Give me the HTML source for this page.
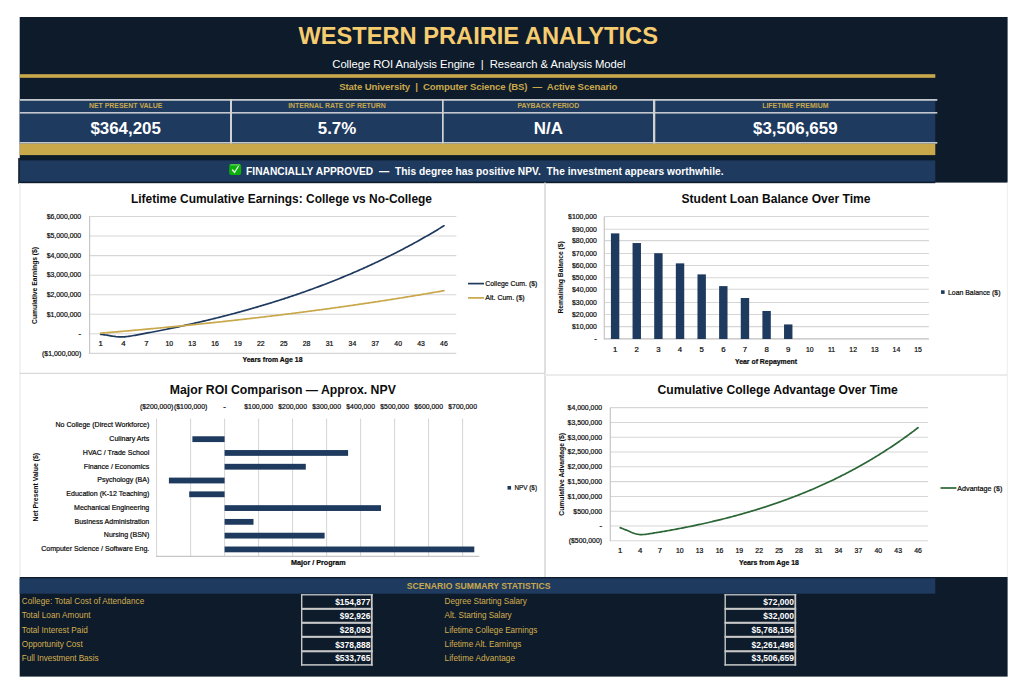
<!DOCTYPE html>
<html lang="en">
<head>
<meta charset="utf-8">
<title>Western Prairie Analytics — College ROI Analysis Engine</title>
<style>
html,body{margin:0;padding:0;background:#fff;}
body{width:1023px;height:698px;overflow:hidden;position:relative;}
svg{position:absolute;left:0;top:0;display:block;font-family:"Liberation Sans", sans-serif;}
</style>
</head>
<body>
<svg width="1023" height="698" viewBox="0 0 1023 698">
<rect x="19.70" y="17.00" width="987.90" height="165.60" fill="#0D1B2A"/>
<rect x="19.70" y="74.20" width="915.60" height="3.60" fill="#C9A84C"/>
<text x="478.20" y="44.00" font-size="23.7" fill="#F5CC70" font-weight="bold" text-anchor="middle" textLength="359.50" lengthAdjust="spacing">WESTERN PRAIRIE ANALYTICS</text>
<text x="478.90" y="68.40" font-size="11.3" fill="#FFFFFF" text-anchor="middle" textLength="293.20" lengthAdjust="spacing" xml:space="preserve" style="white-space:pre">College ROI Analysis Engine  |  Research &amp; Analysis Model</text>
<text x="478.30" y="90.40" font-size="9.6" fill="#C9A84C" font-weight="bold" text-anchor="middle" textLength="278.30" lengthAdjust="spacing" xml:space="preserve" style="white-space:pre">State University  |  Computer Science (BS)  —  Active Scenario</text>
<rect x="19.70" y="99.00" width="915.60" height="44.70" fill="#1E3A5F"/>
<rect x="19.70" y="99.00" width="917.60" height="1.80" fill="#C3C7CD"/>
<rect x="19.70" y="112.00" width="917.60" height="1.60" fill="#C3C7CD"/>
<rect x="19.70" y="142.00" width="917.60" height="1.70" fill="#C3C7CD"/>
<rect x="230.00" y="99.00" width="2.00" height="44.70" fill="#D2D2D2"/>
<rect x="442.00" y="99.00" width="1.70" height="44.70" fill="#D2D2D2"/>
<rect x="653.00" y="99.00" width="2.30" height="44.70" fill="#D2D2D2"/>
<text x="125.65" y="108.20" font-size="6.95" fill="#C9A84C" font-weight="bold" text-anchor="middle">NET PRESENT VALUE</text>
<text x="125.65" y="134.00" font-size="16.9" fill="#FFFFFF" font-weight="bold" text-anchor="middle">$364,205</text>
<text x="337.00" y="108.20" font-size="6.95" fill="#C9A84C" font-weight="bold" text-anchor="middle">INTERNAL RATE OF RETURN</text>
<text x="337.00" y="134.00" font-size="16.9" fill="#FFFFFF" font-weight="bold" text-anchor="middle">5.7%</text>
<text x="548.35" y="108.20" font-size="6.95" fill="#C9A84C" font-weight="bold" text-anchor="middle">PAYBACK PERIOD</text>
<text x="548.35" y="134.00" font-size="16.9" fill="#FFFFFF" font-weight="bold" text-anchor="middle">N/A</text>
<text x="795.30" y="108.20" font-size="6.95" fill="#C9A84C" font-weight="bold" text-anchor="middle">LIFETIME PREMIUM</text>
<text x="795.30" y="134.00" font-size="16.9" fill="#FFFFFF" font-weight="bold" text-anchor="middle">$3,506,659</text>
<rect x="19.70" y="143.70" width="915.60" height="11.40" fill="#C9A84C"/>
<rect x="19.70" y="160.40" width="915.60" height="21.40" fill="#1E3A5F"/>
<rect x="19.70" y="181.80" width="915.60" height="1.40" fill="#0D1B2A"/>
<rect x="18.20" y="158.00" width="1.70" height="25.70" fill="#0D1B2A"/>
<rect x="229.2" y="164" width="11.9" height="10.9" rx="2" fill="#0BB10B"/>
<rect x="230.2" y="164.3" width="9.9" height="1.1" rx="0.5" fill="#5FD25F"/>
<path d="M232.2 169.5 L234.5 172.4 L238.6 166" fill="none" stroke="#EDF6ED" stroke-width="1.25"/>
<text x="246.00" y="174.80" font-size="10.2" fill="#FFFFFF" font-weight="bold" textLength="477.60" lengthAdjust="spacing" xml:space="preserve" style="white-space:pre">FINANCIALLY APPROVED  —  This degree has positive NPV.  The investment appears worthwhile.</text>
<line x1="19.90" y1="183.00" x2="19.90" y2="577.00" stroke="#EEF0F2" stroke-width="1.6"/>
<line x1="1007.30" y1="182.60" x2="1007.30" y2="577.00" stroke="#EDEDED" stroke-width="1.0"/>
<line x1="545.00" y1="182.40" x2="545.00" y2="577.00" stroke="#D9D9D9" stroke-width="1.6"/>
<line x1="19.60" y1="373.40" x2="545.00" y2="373.40" stroke="#D9D9D9" stroke-width="1.2"/>
<line x1="545.00" y1="375.00" x2="1007.80" y2="375.00" stroke="#ECECEC" stroke-width="1.8"/>
<text x="281.50" y="203.20" font-size="12.9" fill="#0c0c0c" font-weight="bold" text-anchor="middle" textLength="301.00" lengthAdjust="spacingAndGlyphs">Lifetime Cumulative Earnings: College vs No-College</text>
<line x1="88.90" y1="216.50" x2="456.30" y2="216.50" stroke="#D6D6D6" stroke-width="1.05"/>
<text x="81.20" y="218.80" font-size="7.8" fill="#0a0a0a" text-anchor="end" textLength="34.53" lengthAdjust="spacingAndGlyphs" stroke="#0a0a0a" stroke-width="0.22">$6,000,000</text>
<line x1="88.90" y1="236.05" x2="456.30" y2="236.05" stroke="#D6D6D6" stroke-width="1.05"/>
<text x="81.20" y="238.35" font-size="7.8" fill="#0a0a0a" text-anchor="end" textLength="34.53" lengthAdjust="spacingAndGlyphs" stroke="#0a0a0a" stroke-width="0.22">$5,000,000</text>
<line x1="88.90" y1="255.60" x2="456.30" y2="255.60" stroke="#D6D6D6" stroke-width="1.05"/>
<text x="81.20" y="257.90" font-size="7.8" fill="#0a0a0a" text-anchor="end" textLength="34.53" lengthAdjust="spacingAndGlyphs" stroke="#0a0a0a" stroke-width="0.22">$4,000,000</text>
<line x1="88.90" y1="275.15" x2="456.30" y2="275.15" stroke="#D6D6D6" stroke-width="1.05"/>
<text x="81.20" y="277.45" font-size="7.8" fill="#0a0a0a" text-anchor="end" textLength="34.53" lengthAdjust="spacingAndGlyphs" stroke="#0a0a0a" stroke-width="0.22">$3,000,000</text>
<line x1="88.90" y1="294.70" x2="456.30" y2="294.70" stroke="#D6D6D6" stroke-width="1.05"/>
<text x="81.20" y="297.00" font-size="7.8" fill="#0a0a0a" text-anchor="end" textLength="34.53" lengthAdjust="spacingAndGlyphs" stroke="#0a0a0a" stroke-width="0.22">$2,000,000</text>
<line x1="88.90" y1="314.25" x2="456.30" y2="314.25" stroke="#D6D6D6" stroke-width="1.05"/>
<text x="81.20" y="316.55" font-size="7.8" fill="#0a0a0a" text-anchor="end" textLength="34.53" lengthAdjust="spacingAndGlyphs" stroke="#0a0a0a" stroke-width="0.22">$1,000,000</text>
<line x1="88.90" y1="333.80" x2="456.30" y2="333.80" stroke="#D6D6D6" stroke-width="1.05"/>
<text x="81.20" y="336.10" font-size="7.8" fill="#0a0a0a" text-anchor="end" stroke="#0a0a0a" stroke-width="0.22">-</text>
<line x1="88.90" y1="353.35" x2="456.30" y2="353.35" stroke="#D6D6D6" stroke-width="1.05"/>
<text x="81.20" y="355.65" font-size="7.8" fill="#0a0a0a" text-anchor="end" textLength="39.13" lengthAdjust="spacingAndGlyphs" stroke="#0a0a0a" stroke-width="0.22">($1,000,000)</text>
<line x1="89.60" y1="216.50" x2="89.60" y2="353.85" stroke="#C6C6C6" stroke-width="1.2"/>
<text x="100.60" y="346.00" font-size="7.8" fill="#0a0a0a" text-anchor="middle" stroke="#0a0a0a" stroke-width="0.22">1</text>
<text x="123.49" y="346.00" font-size="7.8" fill="#0a0a0a" text-anchor="middle" stroke="#0a0a0a" stroke-width="0.22">4</text>
<text x="146.38" y="346.00" font-size="7.8" fill="#0a0a0a" text-anchor="middle" stroke="#0a0a0a" stroke-width="0.22">7</text>
<text x="169.27" y="346.00" font-size="7.8" fill="#0a0a0a" text-anchor="middle" textLength="7.67" lengthAdjust="spacingAndGlyphs" stroke="#0a0a0a" stroke-width="0.22">10</text>
<text x="192.16" y="346.00" font-size="7.8" fill="#0a0a0a" text-anchor="middle" textLength="7.67" lengthAdjust="spacingAndGlyphs" stroke="#0a0a0a" stroke-width="0.22">13</text>
<text x="215.05" y="346.00" font-size="7.8" fill="#0a0a0a" text-anchor="middle" textLength="7.67" lengthAdjust="spacingAndGlyphs" stroke="#0a0a0a" stroke-width="0.22">16</text>
<text x="237.94" y="346.00" font-size="7.8" fill="#0a0a0a" text-anchor="middle" textLength="7.67" lengthAdjust="spacingAndGlyphs" stroke="#0a0a0a" stroke-width="0.22">19</text>
<text x="260.83" y="346.00" font-size="7.8" fill="#0a0a0a" text-anchor="middle" textLength="7.67" lengthAdjust="spacingAndGlyphs" stroke="#0a0a0a" stroke-width="0.22">22</text>
<text x="283.72" y="346.00" font-size="7.8" fill="#0a0a0a" text-anchor="middle" textLength="7.67" lengthAdjust="spacingAndGlyphs" stroke="#0a0a0a" stroke-width="0.22">25</text>
<text x="306.61" y="346.00" font-size="7.8" fill="#0a0a0a" text-anchor="middle" textLength="7.67" lengthAdjust="spacingAndGlyphs" stroke="#0a0a0a" stroke-width="0.22">28</text>
<text x="329.50" y="346.00" font-size="7.8" fill="#0a0a0a" text-anchor="middle" textLength="7.67" lengthAdjust="spacingAndGlyphs" stroke="#0a0a0a" stroke-width="0.22">31</text>
<text x="352.39" y="346.00" font-size="7.8" fill="#0a0a0a" text-anchor="middle" textLength="7.67" lengthAdjust="spacingAndGlyphs" stroke="#0a0a0a" stroke-width="0.22">34</text>
<text x="375.28" y="346.00" font-size="7.8" fill="#0a0a0a" text-anchor="middle" textLength="7.67" lengthAdjust="spacingAndGlyphs" stroke="#0a0a0a" stroke-width="0.22">37</text>
<text x="398.17" y="346.00" font-size="7.8" fill="#0a0a0a" text-anchor="middle" textLength="7.67" lengthAdjust="spacingAndGlyphs" stroke="#0a0a0a" stroke-width="0.22">40</text>
<text x="421.06" y="346.00" font-size="7.8" fill="#0a0a0a" text-anchor="middle" textLength="7.67" lengthAdjust="spacingAndGlyphs" stroke="#0a0a0a" stroke-width="0.22">43</text>
<text x="443.95" y="346.00" font-size="7.8" fill="#0a0a0a" text-anchor="middle" textLength="7.67" lengthAdjust="spacingAndGlyphs" stroke="#0a0a0a" stroke-width="0.22">46</text>
<text x="272.50" y="362.30" font-size="7.5" fill="#0a0a0a" font-weight="bold" text-anchor="middle" textLength="59.96" lengthAdjust="spacingAndGlyphs" stroke="#0a0a0a" stroke-width="0.22">Years from Age 18</text>
<text transform="translate(37.4 285.4) rotate(-90)" font-size="7.5" font-weight="bold" fill="#0a0a0a" text-anchor="middle" textLength="77.00" lengthAdjust="spacingAndGlyphs">Cumulative Earnings ($)</text>
<path d="M100.60 334.29L101.87 334.46L103.14 334.64L104.41 334.82L105.69 335.01L106.96 335.20L108.23 335.40L109.50 335.62L110.77 335.83L112.04 336.05L113.32 336.25L114.59 336.43L115.86 336.60L117.13 336.73L118.40 336.83L119.67 336.89L120.95 336.92L122.22 336.91L123.49 336.87L124.76 336.79L126.03 336.67L127.31 336.53L128.58 336.36L129.85 336.17L131.12 335.97L132.39 335.76L133.66 335.53L134.94 335.31L136.21 335.07L137.48 334.84L138.75 334.60L140.02 334.37L141.29 334.13L142.56 333.90L143.84 333.66L145.11 333.43L146.38 333.19L147.65 332.95L148.92 332.71L150.19 332.47L151.47 332.23L152.74 331.98L154.01 331.74L155.28 331.49L156.55 331.24L157.82 330.99L159.10 330.74L160.37 330.49L161.64 330.24L162.91 329.98L164.18 329.73L165.45 329.47L166.73 329.21L168.00 328.95L169.27 328.69L170.54 328.43L171.81 328.16L173.08 327.90L174.36 327.63L175.63 327.36L176.90 327.10L178.17 326.83L179.44 326.55L180.71 326.28L181.99 326.01L183.26 325.73L184.53 325.45L185.80 325.17L187.07 324.89L188.34 324.61L189.62 324.33L190.89 324.04L192.16 323.76L193.43 323.47L194.70 323.18L195.97 322.89L197.25 322.60L198.52 322.31L199.79 322.01L201.06 321.71L202.33 321.42L203.60 321.12L204.88 320.82L206.15 320.51L207.42 320.21L208.69 319.90L209.96 319.60L211.24 319.29L212.51 318.98L213.78 318.67L215.05 318.35L216.32 318.04L217.59 317.72L218.87 317.40L220.14 317.08L221.41 316.76L222.68 316.44L223.95 316.11L225.22 315.79L226.50 315.46L227.77 315.13L229.04 314.80L230.31 314.46L231.58 314.13L232.85 313.79L234.12 313.45L235.40 313.11L236.67 312.77L237.94 312.43L239.21 312.08L240.48 311.74L241.75 311.39L243.03 311.04L244.30 310.68L245.57 310.33L246.84 309.97L248.11 309.62L249.38 309.26L250.66 308.90L251.93 308.53L253.20 308.17L254.47 307.80L255.74 307.43L257.01 307.06L258.29 306.69L259.56 306.31L260.83 305.94L262.10 305.56L263.37 305.18L264.64 304.80L265.92 304.41L267.19 304.02L268.46 303.64L269.73 303.25L271.00 302.85L272.27 302.46L273.55 302.06L274.82 301.67L276.09 301.27L277.36 300.86L278.63 300.46L279.91 300.05L281.18 299.64L282.45 299.23L283.72 298.82L284.99 298.41L286.26 297.99L287.54 297.57L288.81 297.15L290.08 296.73L291.35 296.30L292.62 295.87L293.89 295.44L295.17 295.01L296.44 294.58L297.71 294.14L298.98 293.70L300.25 293.26L301.52 292.82L302.80 292.37L304.07 291.93L305.34 291.48L306.61 291.02L307.88 290.57L309.15 290.11L310.43 289.65L311.70 289.19L312.97 288.73L314.24 288.26L315.51 287.79L316.78 287.32L318.06 286.85L319.33 286.37L320.60 285.90L321.87 285.42L323.14 284.93L324.41 284.45L325.69 283.96L326.96 283.47L328.23 282.98L329.50 282.48L330.77 281.98L332.04 281.48L333.31 280.98L334.59 280.47L335.86 279.96L337.13 279.45L338.40 278.94L339.67 278.42L340.94 277.90L342.22 277.38L343.49 276.86L344.76 276.33L346.03 275.80L347.30 275.27L348.57 274.74L349.85 274.20L351.12 273.66L352.39 273.12L353.66 272.57L354.93 272.02L356.20 271.47L357.48 270.91L358.75 270.36L360.02 269.80L361.29 269.24L362.56 268.67L363.83 268.10L365.11 267.53L366.38 266.96L367.65 266.38L368.92 265.80L370.19 265.21L371.46 264.63L372.74 264.04L374.01 263.45L375.28 262.85L376.55 262.25L377.82 261.65L379.09 261.05L380.37 260.44L381.64 259.83L382.91 259.22L384.18 258.60L385.45 257.98L386.72 257.36L388.00 256.73L389.27 256.10L390.54 255.47L391.81 254.83L393.08 254.19L394.35 253.55L395.63 252.91L396.90 252.26L398.17 251.61L399.44 250.95L400.71 250.29L401.98 249.63L403.26 248.96L404.53 248.29L405.80 247.62L407.07 246.95L408.34 246.27L409.61 245.58L410.89 244.90L412.16 244.21L413.43 243.51L414.70 242.82L415.97 242.12L417.24 241.41L418.52 240.71L419.79 239.99L421.06 239.28L422.33 238.56L423.60 237.84L424.87 237.11L426.15 236.38L427.42 235.65L428.69 234.91L429.96 234.17L431.23 233.43L432.50 232.68L433.78 231.93L435.05 231.17L436.32 230.41L437.59 229.65L438.86 228.88L440.13 228.10L441.41 227.33L442.68 226.55L443.95 225.77" fill="none" stroke="#1F3A5F" stroke-width="1.7" stroke-linecap="round"/>
<path d="M100.60 333.17L101.87 333.07L103.14 332.96L104.41 332.86L105.69 332.75L106.96 332.64L108.23 332.54L109.50 332.43L110.77 332.32L112.04 332.22L113.32 332.11L114.59 332.00L115.86 331.89L117.13 331.78L118.40 331.67L119.67 331.56L120.95 331.45L122.22 331.34L123.49 331.23L124.76 331.12L126.03 331.01L127.31 330.90L128.58 330.79L129.85 330.68L131.12 330.56L132.39 330.45L133.66 330.34L134.94 330.22L136.21 330.11L137.48 330.00L138.75 329.88L140.02 329.77L141.29 329.65L142.56 329.54L143.84 329.42L145.11 329.31L146.38 329.19L147.65 329.07L148.92 328.96L150.19 328.84L151.47 328.72L152.74 328.61L154.01 328.49L155.28 328.37L156.55 328.25L157.82 328.13L159.10 328.01L160.37 327.89L161.64 327.77L162.91 327.65L164.18 327.53L165.45 327.41L166.73 327.29L168.00 327.17L169.27 327.04L170.54 326.92L171.81 326.80L173.08 326.67L174.36 326.55L175.63 326.43L176.90 326.30L178.17 326.18L179.44 326.05L180.71 325.93L181.99 325.80L183.26 325.68L184.53 325.55L185.80 325.42L187.07 325.30L188.34 325.17L189.62 325.04L190.89 324.91L192.16 324.78L193.43 324.65L194.70 324.53L195.97 324.40L197.25 324.27L198.52 324.14L199.79 324.00L201.06 323.87L202.33 323.74L203.60 323.61L204.88 323.48L206.15 323.35L207.42 323.21L208.69 323.08L209.96 322.95L211.24 322.81L212.51 322.68L213.78 322.54L215.05 322.41L216.32 322.27L217.59 322.14L218.87 322.00L220.14 321.86L221.41 321.73L222.68 321.59L223.95 321.45L225.22 321.31L226.50 321.17L227.77 321.03L229.04 320.89L230.31 320.75L231.58 320.61L232.85 320.47L234.12 320.33L235.40 320.19L236.67 320.05L237.94 319.91L239.21 319.76L240.48 319.62L241.75 319.48L243.03 319.33L244.30 319.19L245.57 319.05L246.84 318.90L248.11 318.75L249.38 318.61L250.66 318.46L251.93 318.32L253.20 318.17L254.47 318.02L255.74 317.87L257.01 317.73L258.29 317.58L259.56 317.43L260.83 317.28L262.10 317.13L263.37 316.98L264.64 316.83L265.92 316.68L267.19 316.52L268.46 316.37L269.73 316.22L271.00 316.07L272.27 315.91L273.55 315.76L274.82 315.60L276.09 315.45L277.36 315.29L278.63 315.14L279.91 314.98L281.18 314.83L282.45 314.67L283.72 314.51L284.99 314.35L286.26 314.20L287.54 314.04L288.81 313.88L290.08 313.72L291.35 313.56L292.62 313.40L293.89 313.24L295.17 313.08L296.44 312.91L297.71 312.75L298.98 312.59L300.25 312.43L301.52 312.26L302.80 312.10L304.07 311.93L305.34 311.77L306.61 311.60L307.88 311.44L309.15 311.27L310.43 311.10L311.70 310.94L312.97 310.77L314.24 310.60L315.51 310.43L316.78 310.26L318.06 310.09L319.33 309.92L320.60 309.75L321.87 309.58L323.14 309.41L324.41 309.24L325.69 309.06L326.96 308.89L328.23 308.72L329.50 308.54L330.77 308.37L332.04 308.19L333.31 308.02L334.59 307.84L335.86 307.66L337.13 307.49L338.40 307.31L339.67 307.13L340.94 306.95L342.22 306.77L343.49 306.59L344.76 306.41L346.03 306.23L347.30 306.05L348.57 305.87L349.85 305.69L351.12 305.51L352.39 305.32L353.66 305.14L354.93 304.96L356.20 304.77L357.48 304.59L358.75 304.40L360.02 304.21L361.29 304.03L362.56 303.84L363.83 303.65L365.11 303.46L366.38 303.27L367.65 303.08L368.92 302.89L370.19 302.70L371.46 302.51L372.74 302.32L374.01 302.13L375.28 301.94L376.55 301.74L377.82 301.55L379.09 301.36L380.37 301.16L381.64 300.97L382.91 300.77L384.18 300.57L385.45 300.38L386.72 300.18L388.00 299.98L389.27 299.78L390.54 299.58L391.81 299.38L393.08 299.18L394.35 298.98L395.63 298.78L396.90 298.58L398.17 298.38L399.44 298.17L400.71 297.97L401.98 297.76L403.26 297.56L404.53 297.35L405.80 297.15L407.07 296.94L408.34 296.73L409.61 296.53L410.89 296.32L412.16 296.11L413.43 295.90L414.70 295.69L415.97 295.48L417.24 295.27L418.52 295.05L419.79 294.84L421.06 294.63L422.33 294.42L423.60 294.20L424.87 293.99L426.15 293.77L427.42 293.55L428.69 293.34L429.96 293.12L431.23 292.90L432.50 292.68L433.78 292.46L435.05 292.24L436.32 292.02L437.59 291.80L438.86 291.58L440.13 291.36L441.41 291.13L442.68 290.91L443.95 290.69" fill="none" stroke="#C9A84C" stroke-width="1.7" stroke-linecap="round"/>
<line x1="468.00" y1="283.60" x2="484.00" y2="283.60" stroke="#1F3A5F" stroke-width="1.7"/>
<text x="485.30" y="286.00" font-size="7.8" fill="#0a0a0a" textLength="52.00" lengthAdjust="spacingAndGlyphs" stroke="#0a0a0a" stroke-width="0.22">College Cum. ($)</text>
<line x1="468.00" y1="297.90" x2="484.00" y2="297.90" stroke="#C9A84C" stroke-width="1.7"/>
<text x="485.30" y="300.30" font-size="7.8" fill="#0a0a0a" textLength="39.40" lengthAdjust="spacingAndGlyphs" stroke="#0a0a0a" stroke-width="0.22">Alt. Cum. ($)</text>
<text x="776.00" y="203.20" font-size="12.9" fill="#0c0c0c" font-weight="bold" text-anchor="middle" textLength="189.00" lengthAdjust="spacingAndGlyphs">Student Loan Balance Over Time</text>
<line x1="604.30" y1="216.40" x2="928.90" y2="216.40" stroke="#D6D6D6" stroke-width="1.05"/>
<text x="596.90" y="218.70" font-size="7.8" fill="#0a0a0a" text-anchor="end" textLength="28.78" lengthAdjust="spacingAndGlyphs" stroke="#0a0a0a" stroke-width="0.22">$100,000</text>
<line x1="604.30" y1="229.30" x2="928.90" y2="229.30" stroke="#D6D6D6" stroke-width="1.05"/>
<text x="596.90" y="231.60" font-size="7.8" fill="#0a0a0a" text-anchor="end" textLength="24.94" lengthAdjust="spacingAndGlyphs" stroke="#0a0a0a" stroke-width="0.22">$90,000</text>
<line x1="604.30" y1="240.60" x2="928.90" y2="240.60" stroke="#D6D6D6" stroke-width="1.05"/>
<text x="596.90" y="242.90" font-size="7.8" fill="#0a0a0a" text-anchor="end" textLength="24.94" lengthAdjust="spacingAndGlyphs" stroke="#0a0a0a" stroke-width="0.22">$80,000</text>
<line x1="604.30" y1="253.50" x2="928.90" y2="253.50" stroke="#D6D6D6" stroke-width="1.05"/>
<text x="596.90" y="255.80" font-size="7.8" fill="#0a0a0a" text-anchor="end" textLength="24.94" lengthAdjust="spacingAndGlyphs" stroke="#0a0a0a" stroke-width="0.22">$70,000</text>
<line x1="604.30" y1="265.50" x2="928.90" y2="265.50" stroke="#D6D6D6" stroke-width="1.05"/>
<text x="596.90" y="267.80" font-size="7.8" fill="#0a0a0a" text-anchor="end" textLength="24.94" lengthAdjust="spacingAndGlyphs" stroke="#0a0a0a" stroke-width="0.22">$60,000</text>
<line x1="604.30" y1="277.70" x2="928.90" y2="277.70" stroke="#D6D6D6" stroke-width="1.05"/>
<text x="596.90" y="280.00" font-size="7.8" fill="#0a0a0a" text-anchor="end" textLength="24.94" lengthAdjust="spacingAndGlyphs" stroke="#0a0a0a" stroke-width="0.22">$50,000</text>
<line x1="604.30" y1="289.30" x2="928.90" y2="289.30" stroke="#D6D6D6" stroke-width="1.05"/>
<text x="596.90" y="291.60" font-size="7.8" fill="#0a0a0a" text-anchor="end" textLength="24.94" lengthAdjust="spacingAndGlyphs" stroke="#0a0a0a" stroke-width="0.22">$40,000</text>
<line x1="604.30" y1="302.50" x2="928.90" y2="302.50" stroke="#D6D6D6" stroke-width="1.05"/>
<text x="596.90" y="304.80" font-size="7.8" fill="#0a0a0a" text-anchor="end" textLength="24.94" lengthAdjust="spacingAndGlyphs" stroke="#0a0a0a" stroke-width="0.22">$30,000</text>
<line x1="604.30" y1="314.40" x2="928.90" y2="314.40" stroke="#D6D6D6" stroke-width="1.05"/>
<text x="596.90" y="316.70" font-size="7.8" fill="#0a0a0a" text-anchor="end" textLength="24.94" lengthAdjust="spacingAndGlyphs" stroke="#0a0a0a" stroke-width="0.22">$20,000</text>
<line x1="604.30" y1="326.60" x2="928.90" y2="326.60" stroke="#D6D6D6" stroke-width="1.05"/>
<text x="596.90" y="328.90" font-size="7.8" fill="#0a0a0a" text-anchor="end" textLength="24.94" lengthAdjust="spacingAndGlyphs" stroke="#0a0a0a" stroke-width="0.22">$10,000</text>
<line x1="604.30" y1="338.90" x2="928.90" y2="338.90" stroke="#BEBEBE" stroke-width="1.2"/>
<text x="596.90" y="341.20" font-size="7.8" fill="#0a0a0a" text-anchor="end" stroke="#0a0a0a" stroke-width="0.22">-</text>
<line x1="604.30" y1="216.60" x2="604.30" y2="339.50" stroke="#C6C6C6" stroke-width="1.2"/>
<text x="615.12" y="351.70" font-size="7.8" fill="#0a0a0a" text-anchor="middle" stroke="#0a0a0a" stroke-width="0.22">1</text>
<rect x="610.92" y="233.37" width="8.40" height="105.63" fill="#1F3A5F"/>
<text x="636.76" y="351.70" font-size="7.8" fill="#0a0a0a" text-anchor="middle" stroke="#0a0a0a" stroke-width="0.22">2</text>
<rect x="632.56" y="243.04" width="8.40" height="95.96" fill="#1F3A5F"/>
<text x="658.40" y="351.70" font-size="7.8" fill="#0a0a0a" text-anchor="middle" stroke="#0a0a0a" stroke-width="0.22">3</text>
<rect x="654.20" y="253.20" width="8.40" height="85.80" fill="#1F3A5F"/>
<text x="680.04" y="351.70" font-size="7.8" fill="#0a0a0a" text-anchor="middle" stroke="#0a0a0a" stroke-width="0.22">4</text>
<rect x="675.84" y="263.36" width="8.40" height="75.64" fill="#1F3A5F"/>
<text x="701.68" y="351.70" font-size="7.8" fill="#0a0a0a" text-anchor="middle" stroke="#0a0a0a" stroke-width="0.22">5</text>
<rect x="697.48" y="274.37" width="8.40" height="64.63" fill="#1F3A5F"/>
<text x="723.32" y="351.70" font-size="7.8" fill="#0a0a0a" text-anchor="middle" stroke="#0a0a0a" stroke-width="0.22">6</text>
<rect x="719.12" y="286.12" width="8.40" height="52.88" fill="#1F3A5F"/>
<text x="744.96" y="351.70" font-size="7.8" fill="#0a0a0a" text-anchor="middle" stroke="#0a0a0a" stroke-width="0.22">7</text>
<rect x="740.76" y="298.00" width="8.40" height="41.00" fill="#1F3A5F"/>
<text x="766.60" y="351.70" font-size="7.8" fill="#0a0a0a" text-anchor="middle" stroke="#0a0a0a" stroke-width="0.22">8</text>
<rect x="762.40" y="310.97" width="8.40" height="28.03" fill="#1F3A5F"/>
<text x="788.24" y="351.70" font-size="7.8" fill="#0a0a0a" text-anchor="middle" stroke="#0a0a0a" stroke-width="0.22">9</text>
<rect x="784.04" y="324.43" width="8.40" height="14.57" fill="#1F3A5F"/>
<text x="809.88" y="351.70" font-size="7.8" fill="#0a0a0a" text-anchor="middle" textLength="7.67" lengthAdjust="spacingAndGlyphs" stroke="#0a0a0a" stroke-width="0.22">10</text>
<text x="831.52" y="351.70" font-size="7.8" fill="#0a0a0a" text-anchor="middle" textLength="7.16" lengthAdjust="spacingAndGlyphs" stroke="#0a0a0a" stroke-width="0.22">11</text>
<text x="853.16" y="351.70" font-size="7.8" fill="#0a0a0a" text-anchor="middle" textLength="7.67" lengthAdjust="spacingAndGlyphs" stroke="#0a0a0a" stroke-width="0.22">12</text>
<text x="874.80" y="351.70" font-size="7.8" fill="#0a0a0a" text-anchor="middle" textLength="7.67" lengthAdjust="spacingAndGlyphs" stroke="#0a0a0a" stroke-width="0.22">13</text>
<text x="896.44" y="351.70" font-size="7.8" fill="#0a0a0a" text-anchor="middle" textLength="7.67" lengthAdjust="spacingAndGlyphs" stroke="#0a0a0a" stroke-width="0.22">14</text>
<text x="918.08" y="351.70" font-size="7.8" fill="#0a0a0a" text-anchor="middle" textLength="7.67" lengthAdjust="spacingAndGlyphs" stroke="#0a0a0a" stroke-width="0.22">15</text>
<text x="766.00" y="363.70" font-size="7.5" fill="#0a0a0a" font-weight="bold" text-anchor="middle" textLength="62.12" lengthAdjust="spacingAndGlyphs" stroke="#0a0a0a" stroke-width="0.22">Year of Repayment</text>
<text transform="translate(563.4 277.4) rotate(-90)" font-size="7.5" font-weight="bold" fill="#0a0a0a" text-anchor="middle" textLength="72.40" lengthAdjust="spacingAndGlyphs">Remaining Balance ($)</text>
<rect x="941.00" y="290.30" width="3.60" height="3.60" fill="#1F3A5F"/>
<text x="948.00" y="294.50" font-size="7.8" fill="#0a0a0a" textLength="52.50" lengthAdjust="spacingAndGlyphs" stroke="#0a0a0a" stroke-width="0.22">Loan Balance ($)</text>
<text x="282.80" y="393.60" font-size="12.9" fill="#0c0c0c" font-weight="bold" text-anchor="middle" textLength="226.00" lengthAdjust="spacingAndGlyphs">Major ROI Comparison — Approx. NPV</text>
<line x1="156.60" y1="418.50" x2="156.60" y2="556.30" stroke="#D6D6D6" stroke-width="1.05"/>
<line x1="190.60" y1="418.50" x2="190.60" y2="556.30" stroke="#D6D6D6" stroke-width="1.05"/>
<line x1="224.60" y1="418.50" x2="224.60" y2="556.30" stroke="#D6D6D6" stroke-width="1.05"/>
<line x1="258.60" y1="418.50" x2="258.60" y2="556.30" stroke="#D6D6D6" stroke-width="1.05"/>
<line x1="292.60" y1="418.50" x2="292.60" y2="556.30" stroke="#D6D6D6" stroke-width="1.05"/>
<line x1="326.60" y1="418.50" x2="326.60" y2="556.30" stroke="#D6D6D6" stroke-width="1.05"/>
<line x1="360.60" y1="418.50" x2="360.60" y2="556.30" stroke="#D6D6D6" stroke-width="1.05"/>
<line x1="394.60" y1="418.50" x2="394.60" y2="556.30" stroke="#D6D6D6" stroke-width="1.05"/>
<line x1="428.60" y1="418.50" x2="428.60" y2="556.30" stroke="#D6D6D6" stroke-width="1.05"/>
<line x1="462.60" y1="418.50" x2="462.60" y2="556.30" stroke="#D6D6D6" stroke-width="1.05"/>
<line x1="156.00" y1="556.30" x2="479.30" y2="556.30" stroke="#C6C6C6" stroke-width="1.2"/>
<text x="156.60" y="409.20" font-size="7.8" fill="#0a0a0a" text-anchor="middle" textLength="33.37" lengthAdjust="spacingAndGlyphs" stroke="#0a0a0a" stroke-width="0.22">($200,000)</text>
<text x="190.60" y="409.20" font-size="7.8" fill="#0a0a0a" text-anchor="middle" textLength="33.37" lengthAdjust="spacingAndGlyphs" stroke="#0a0a0a" stroke-width="0.22">($100,000)</text>
<text x="224.60" y="409.20" font-size="7.8" fill="#0a0a0a" text-anchor="middle" stroke="#0a0a0a" stroke-width="0.22">-</text>
<text x="258.60" y="409.20" font-size="7.8" fill="#0a0a0a" text-anchor="middle" textLength="28.78" lengthAdjust="spacingAndGlyphs" stroke="#0a0a0a" stroke-width="0.22">$100,000</text>
<text x="292.60" y="409.20" font-size="7.8" fill="#0a0a0a" text-anchor="middle" textLength="28.78" lengthAdjust="spacingAndGlyphs" stroke="#0a0a0a" stroke-width="0.22">$200,000</text>
<text x="326.60" y="409.20" font-size="7.8" fill="#0a0a0a" text-anchor="middle" textLength="28.78" lengthAdjust="spacingAndGlyphs" stroke="#0a0a0a" stroke-width="0.22">$300,000</text>
<text x="360.60" y="409.20" font-size="7.8" fill="#0a0a0a" text-anchor="middle" textLength="28.78" lengthAdjust="spacingAndGlyphs" stroke="#0a0a0a" stroke-width="0.22">$400,000</text>
<text x="394.60" y="409.20" font-size="7.8" fill="#0a0a0a" text-anchor="middle" textLength="28.78" lengthAdjust="spacingAndGlyphs" stroke="#0a0a0a" stroke-width="0.22">$500,000</text>
<text x="428.60" y="409.20" font-size="7.8" fill="#0a0a0a" text-anchor="middle" textLength="28.78" lengthAdjust="spacingAndGlyphs" stroke="#0a0a0a" stroke-width="0.22">$600,000</text>
<text x="462.60" y="409.20" font-size="7.8" fill="#0a0a0a" text-anchor="middle" textLength="28.78" lengthAdjust="spacingAndGlyphs" stroke="#0a0a0a" stroke-width="0.22">$700,000</text>
<text x="149.30" y="427.19" font-size="7.8" fill="#0a0a0a" text-anchor="end" textLength="93.89" lengthAdjust="spacingAndGlyphs" stroke="#0a0a0a" stroke-width="0.22">No College (Direct Workforce)</text>
<text x="149.30" y="440.97" font-size="7.8" fill="#0a0a0a" text-anchor="end" textLength="39.96" lengthAdjust="spacingAndGlyphs" stroke="#0a0a0a" stroke-width="0.22">Culinary Arts</text>
<rect x="192.40" y="436.27" width="32.20" height="5.80" fill="#1F3A5F"/>
<text x="149.30" y="454.75" font-size="7.8" fill="#0a0a0a" text-anchor="end" textLength="66.48" lengthAdjust="spacingAndGlyphs" stroke="#0a0a0a" stroke-width="0.22">HVAC / Trade School</text>
<rect x="224.60" y="450.05" width="123.50" height="5.80" fill="#1F3A5F"/>
<text x="149.30" y="468.53" font-size="7.8" fill="#0a0a0a" text-anchor="end" textLength="65.44" lengthAdjust="spacingAndGlyphs" stroke="#0a0a0a" stroke-width="0.22">Finance / Economics</text>
<rect x="224.60" y="463.83" width="81.20" height="5.80" fill="#1F3A5F"/>
<text x="149.30" y="482.31" font-size="7.8" fill="#0a0a0a" text-anchor="end" textLength="52.11" lengthAdjust="spacingAndGlyphs" stroke="#0a0a0a" stroke-width="0.22">Psychology (BA)</text>
<rect x="168.90" y="477.61" width="55.70" height="5.80" fill="#1F3A5F"/>
<text x="149.30" y="496.09" font-size="7.8" fill="#0a0a0a" text-anchor="end" textLength="82.96" lengthAdjust="spacingAndGlyphs" stroke="#0a0a0a" stroke-width="0.22">Education (K-12 Teaching)</text>
<rect x="189.20" y="491.39" width="35.40" height="5.80" fill="#1F3A5F"/>
<text x="149.30" y="509.87" font-size="7.8" fill="#0a0a0a" text-anchor="end" textLength="75.25" lengthAdjust="spacingAndGlyphs" stroke="#0a0a0a" stroke-width="0.22">Mechanical Engineering</text>
<rect x="224.60" y="505.17" width="156.40" height="5.80" fill="#1F3A5F"/>
<text x="149.30" y="523.65" font-size="7.8" fill="#0a0a0a" text-anchor="end" textLength="74.84" lengthAdjust="spacingAndGlyphs" stroke="#0a0a0a" stroke-width="0.22">Business Administration</text>
<rect x="224.60" y="518.95" width="28.90" height="5.80" fill="#1F3A5F"/>
<text x="149.30" y="537.43" font-size="7.8" fill="#0a0a0a" text-anchor="end" textLength="45.44" lengthAdjust="spacingAndGlyphs" stroke="#0a0a0a" stroke-width="0.22">Nursing (BSN)</text>
<rect x="224.60" y="532.73" width="100.00" height="5.80" fill="#1F3A5F"/>
<text x="149.30" y="551.21" font-size="7.8" fill="#0a0a0a" text-anchor="end" textLength="108.15" lengthAdjust="spacingAndGlyphs" stroke="#0a0a0a" stroke-width="0.22">Computer Science / Software Eng.</text>
<rect x="224.60" y="546.51" width="249.70" height="5.80" fill="#1F3A5F"/>
<text x="318.40" y="564.50" font-size="7.5" fill="#0a0a0a" font-weight="bold" text-anchor="middle" textLength="54.60" lengthAdjust="spacingAndGlyphs" stroke="#0a0a0a" stroke-width="0.22">Major / Program</text>
<text transform="translate(37.8 487.2) rotate(-90)" font-size="7.5" font-weight="bold" fill="#0a0a0a" text-anchor="middle" textLength="68.64" lengthAdjust="spacingAndGlyphs">Net Present Value ($)</text>
<rect x="507.50" y="486.00" width="3.60" height="3.60" fill="#1F3A5F"/>
<text x="514.50" y="490.00" font-size="7.8" fill="#0a0a0a" textLength="22.50" lengthAdjust="spacingAndGlyphs" stroke="#0a0a0a" stroke-width="0.22">NPV ($)</text>
<text x="777.70" y="394.40" font-size="12.9" fill="#0c0c0c" font-weight="bold" text-anchor="middle" textLength="240.20" lengthAdjust="spacingAndGlyphs">Cumulative College Advantage Over Time</text>
<line x1="610.30" y1="407.60" x2="928.20" y2="407.60" stroke="#D6D6D6" stroke-width="1.05"/>
<text x="602.10" y="409.90" font-size="7.8" fill="#0a0a0a" text-anchor="end" textLength="34.53" lengthAdjust="spacingAndGlyphs" stroke="#0a0a0a" stroke-width="0.22">$4,000,000</text>
<line x1="610.30" y1="422.40" x2="928.20" y2="422.40" stroke="#D6D6D6" stroke-width="1.05"/>
<text x="602.10" y="424.70" font-size="7.8" fill="#0a0a0a" text-anchor="end" textLength="34.53" lengthAdjust="spacingAndGlyphs" stroke="#0a0a0a" stroke-width="0.22">$3,500,000</text>
<line x1="610.30" y1="437.20" x2="928.20" y2="437.20" stroke="#D6D6D6" stroke-width="1.05"/>
<text x="602.10" y="439.50" font-size="7.8" fill="#0a0a0a" text-anchor="end" textLength="34.53" lengthAdjust="spacingAndGlyphs" stroke="#0a0a0a" stroke-width="0.22">$3,000,000</text>
<line x1="610.30" y1="452.00" x2="928.20" y2="452.00" stroke="#D6D6D6" stroke-width="1.05"/>
<text x="602.10" y="454.30" font-size="7.8" fill="#0a0a0a" text-anchor="end" textLength="34.53" lengthAdjust="spacingAndGlyphs" stroke="#0a0a0a" stroke-width="0.22">$2,500,000</text>
<line x1="610.30" y1="466.80" x2="928.20" y2="466.80" stroke="#D6D6D6" stroke-width="1.05"/>
<text x="602.10" y="469.10" font-size="7.8" fill="#0a0a0a" text-anchor="end" textLength="34.53" lengthAdjust="spacingAndGlyphs" stroke="#0a0a0a" stroke-width="0.22">$2,000,000</text>
<line x1="610.30" y1="481.60" x2="928.20" y2="481.60" stroke="#D6D6D6" stroke-width="1.05"/>
<text x="602.10" y="483.90" font-size="7.8" fill="#0a0a0a" text-anchor="end" textLength="34.53" lengthAdjust="spacingAndGlyphs" stroke="#0a0a0a" stroke-width="0.22">$1,500,000</text>
<line x1="610.30" y1="496.40" x2="928.20" y2="496.40" stroke="#D6D6D6" stroke-width="1.05"/>
<text x="602.10" y="498.70" font-size="7.8" fill="#0a0a0a" text-anchor="end" textLength="34.53" lengthAdjust="spacingAndGlyphs" stroke="#0a0a0a" stroke-width="0.22">$1,000,000</text>
<line x1="610.30" y1="511.20" x2="928.20" y2="511.20" stroke="#D6D6D6" stroke-width="1.05"/>
<text x="602.10" y="513.50" font-size="7.8" fill="#0a0a0a" text-anchor="end" textLength="28.78" lengthAdjust="spacingAndGlyphs" stroke="#0a0a0a" stroke-width="0.22">$500,000</text>
<line x1="610.30" y1="526.00" x2="928.20" y2="526.00" stroke="#D6D6D6" stroke-width="1.05"/>
<text x="602.10" y="528.30" font-size="7.8" fill="#0a0a0a" text-anchor="end" stroke="#0a0a0a" stroke-width="0.22">-</text>
<line x1="610.30" y1="540.80" x2="928.20" y2="540.80" stroke="#D6D6D6" stroke-width="1.05"/>
<text x="602.10" y="543.10" font-size="7.8" fill="#0a0a0a" text-anchor="end" textLength="33.37" lengthAdjust="spacingAndGlyphs" stroke="#0a0a0a" stroke-width="0.22">($500,000)</text>
<line x1="610.30" y1="407.60" x2="610.30" y2="541.30" stroke="#C6C6C6" stroke-width="1.2"/>
<text x="620.20" y="553.20" font-size="7.8" fill="#0a0a0a" text-anchor="middle" stroke="#0a0a0a" stroke-width="0.22">1</text>
<text x="640.05" y="553.20" font-size="7.8" fill="#0a0a0a" text-anchor="middle" stroke="#0a0a0a" stroke-width="0.22">4</text>
<text x="659.91" y="553.20" font-size="7.8" fill="#0a0a0a" text-anchor="middle" stroke="#0a0a0a" stroke-width="0.22">7</text>
<text x="679.76" y="553.20" font-size="7.8" fill="#0a0a0a" text-anchor="middle" textLength="7.67" lengthAdjust="spacingAndGlyphs" stroke="#0a0a0a" stroke-width="0.22">10</text>
<text x="699.62" y="553.20" font-size="7.8" fill="#0a0a0a" text-anchor="middle" textLength="7.67" lengthAdjust="spacingAndGlyphs" stroke="#0a0a0a" stroke-width="0.22">13</text>
<text x="719.47" y="553.20" font-size="7.8" fill="#0a0a0a" text-anchor="middle" textLength="7.67" lengthAdjust="spacingAndGlyphs" stroke="#0a0a0a" stroke-width="0.22">16</text>
<text x="739.32" y="553.20" font-size="7.8" fill="#0a0a0a" text-anchor="middle" textLength="7.67" lengthAdjust="spacingAndGlyphs" stroke="#0a0a0a" stroke-width="0.22">19</text>
<text x="759.18" y="553.20" font-size="7.8" fill="#0a0a0a" text-anchor="middle" textLength="7.67" lengthAdjust="spacingAndGlyphs" stroke="#0a0a0a" stroke-width="0.22">22</text>
<text x="779.03" y="553.20" font-size="7.8" fill="#0a0a0a" text-anchor="middle" textLength="7.67" lengthAdjust="spacingAndGlyphs" stroke="#0a0a0a" stroke-width="0.22">25</text>
<text x="798.89" y="553.20" font-size="7.8" fill="#0a0a0a" text-anchor="middle" textLength="7.67" lengthAdjust="spacingAndGlyphs" stroke="#0a0a0a" stroke-width="0.22">28</text>
<text x="818.74" y="553.20" font-size="7.8" fill="#0a0a0a" text-anchor="middle" textLength="7.67" lengthAdjust="spacingAndGlyphs" stroke="#0a0a0a" stroke-width="0.22">31</text>
<text x="838.59" y="553.20" font-size="7.8" fill="#0a0a0a" text-anchor="middle" textLength="7.67" lengthAdjust="spacingAndGlyphs" stroke="#0a0a0a" stroke-width="0.22">34</text>
<text x="858.45" y="553.20" font-size="7.8" fill="#0a0a0a" text-anchor="middle" textLength="7.67" lengthAdjust="spacingAndGlyphs" stroke="#0a0a0a" stroke-width="0.22">37</text>
<text x="878.30" y="553.20" font-size="7.8" fill="#0a0a0a" text-anchor="middle" textLength="7.67" lengthAdjust="spacingAndGlyphs" stroke="#0a0a0a" stroke-width="0.22">40</text>
<text x="898.16" y="553.20" font-size="7.8" fill="#0a0a0a" text-anchor="middle" textLength="7.67" lengthAdjust="spacingAndGlyphs" stroke="#0a0a0a" stroke-width="0.22">43</text>
<text x="918.01" y="553.20" font-size="7.8" fill="#0a0a0a" text-anchor="middle" textLength="7.67" lengthAdjust="spacingAndGlyphs" stroke="#0a0a0a" stroke-width="0.22">46</text>
<text x="768.90" y="564.60" font-size="7.5" fill="#0a0a0a" font-weight="bold" text-anchor="middle" textLength="59.96" lengthAdjust="spacingAndGlyphs" stroke="#0a0a0a" stroke-width="0.22">Years from Age 18</text>
<text transform="translate(563.7 474.3) rotate(-90)" font-size="7.5" font-weight="bold" fill="#0a0a0a" text-anchor="middle" textLength="82.70" lengthAdjust="spacingAndGlyphs">Cumulative Advantage ($)</text>
<path d="M620.20 527.69L621.30 528.11L622.41 528.54L623.51 528.97L624.61 529.42L625.72 529.87L626.82 530.34L627.92 530.82L629.02 531.31L630.13 531.80L631.23 532.27L632.33 532.71L633.44 533.12L634.54 533.49L635.64 533.80L636.75 534.06L637.85 534.28L638.95 534.43L640.05 534.53L641.16 534.58L642.26 534.57L643.36 534.52L644.47 534.44L645.57 534.32L646.67 534.19L647.78 534.03L648.88 533.87L649.98 533.69L651.08 533.51L652.19 533.33L653.29 533.14L654.39 532.96L655.50 532.78L656.60 532.60L657.70 532.42L658.81 532.24L659.91 532.06L661.01 531.87L662.11 531.68L663.22 531.50L664.32 531.30L665.42 531.11L666.53 530.92L667.63 530.72L668.73 530.53L669.84 530.33L670.94 530.13L672.04 529.93L673.14 529.73L674.25 529.53L675.35 529.33L676.45 529.12L677.56 528.91L678.66 528.70L679.76 528.49L680.87 528.28L681.97 528.07L683.07 527.85L684.17 527.64L685.28 527.42L686.38 527.20L687.48 526.98L688.59 526.76L689.69 526.53L690.79 526.31L691.90 526.08L693.00 525.85L694.10 525.62L695.20 525.39L696.31 525.16L697.41 524.92L698.51 524.68L699.62 524.45L700.72 524.21L701.82 523.96L702.92 523.72L704.03 523.48L705.13 523.23L706.23 522.98L707.34 522.73L708.44 522.48L709.54 522.22L710.65 521.97L711.75 521.71L712.85 521.45L713.96 521.19L715.06 520.93L716.16 520.66L717.26 520.40L718.37 520.13L719.47 519.86L720.57 519.59L721.68 519.32L722.78 519.04L723.88 518.76L724.99 518.48L726.09 518.20L727.19 517.92L728.29 517.63L729.40 517.35L730.50 517.06L731.60 516.77L732.71 516.47L733.81 516.18L734.91 515.88L736.02 515.58L737.12 515.28L738.22 514.98L739.32 514.68L740.43 514.37L741.53 514.06L742.63 513.75L743.74 513.44L744.84 513.12L745.94 512.80L747.05 512.48L748.15 512.16L749.25 511.84L750.35 511.51L751.46 511.19L752.56 510.86L753.66 510.52L754.77 510.19L755.87 509.85L756.97 509.51L758.08 509.17L759.18 508.83L760.28 508.48L761.38 508.13L762.49 507.78L763.59 507.43L764.69 507.08L765.80 506.72L766.90 506.36L768.00 506.00L769.11 505.63L770.21 505.27L771.31 504.90L772.41 504.53L773.52 504.15L774.62 503.77L775.72 503.40L776.83 503.01L777.93 502.63L779.03 502.24L780.13 501.86L781.24 501.46L782.34 501.07L783.44 500.67L784.55 500.27L785.65 499.87L786.75 499.47L787.86 499.06L788.96 498.65L790.06 498.24L791.17 497.82L792.27 497.41L793.37 496.99L794.47 496.56L795.58 496.14L796.68 495.71L797.78 495.28L798.89 494.84L799.99 494.41L801.09 493.97L802.20 493.52L803.30 493.08L804.40 492.63L805.50 492.18L806.61 491.73L807.71 491.27L808.81 490.81L809.92 490.35L811.02 489.88L812.12 489.41L813.23 488.94L814.33 488.47L815.43 487.99L816.53 487.51L817.64 487.03L818.74 486.54L819.84 486.05L820.95 485.56L822.05 485.06L823.15 484.56L824.26 484.06L825.36 483.55L826.46 483.05L827.56 482.53L828.67 482.02L829.77 481.50L830.87 480.98L831.98 480.45L833.08 479.93L834.18 479.39L835.29 478.86L836.39 478.32L837.49 477.78L838.59 477.24L839.70 476.69L840.80 476.13L841.90 475.58L843.01 475.02L844.11 474.46L845.21 473.89L846.32 473.32L847.42 472.75L848.52 472.17L849.62 471.59L850.73 471.01L851.83 470.42L852.93 469.83L854.04 469.24L855.14 468.64L856.24 468.04L857.35 467.43L858.45 466.82L859.55 466.21L860.65 465.59L861.76 464.97L862.86 464.35L863.96 463.72L865.07 463.09L866.17 462.45L867.27 461.81L868.38 461.17L869.48 460.52L870.58 459.87L871.68 459.21L872.79 458.55L873.89 457.89L874.99 457.22L876.10 456.54L877.20 455.87L878.30 455.19L879.41 454.50L880.51 453.81L881.61 453.12L882.71 452.42L883.82 451.72L884.92 451.01L886.02 450.30L887.13 449.59L888.23 448.87L889.33 448.15L890.44 447.42L891.54 446.69L892.64 445.95L893.74 445.21L894.85 444.46L895.95 443.71L897.05 442.96L898.16 442.20L899.26 441.43L900.36 440.66L901.47 439.89L902.57 439.11L903.67 438.33L904.77 437.54L905.88 436.75L906.98 435.95L908.08 435.15L909.19 434.35L910.29 433.53L911.39 432.72L912.50 431.89L913.60 431.06L914.70 430.23L915.80 429.39L916.91 428.55L918.01 427.71" fill="none" stroke="#2B6636" stroke-width="1.7" stroke-linecap="round"/>
<line x1="940.50" y1="488.00" x2="956.40" y2="488.00" stroke="#2B6636" stroke-width="1.7"/>
<text x="957.30" y="490.50" font-size="7.8" fill="#0a0a0a" textLength="45.00" lengthAdjust="spacingAndGlyphs" stroke="#0a0a0a" stroke-width="0.22">Advantage ($)</text>
<rect x="19.70" y="577.00" width="987.90" height="99.60" fill="#0D1B2A"/>
<rect x="19.70" y="578.30" width="915.60" height="15.40" fill="#1E3A5F"/>
<text x="478.60" y="589.00" font-size="9.2" fill="#C9A84C" font-weight="bold" text-anchor="middle" textLength="143.70" lengthAdjust="spacingAndGlyphs">SCENARIO SUMMARY STATISTICS</text>
<text x="21.80" y="604.15" font-size="8.2" fill="#D4AF50" textLength="122.40" lengthAdjust="spacing">College: Total Cost of Attendance</text>
<text x="370.40" y="605.40" font-size="9.0" fill="#FFFFFF" font-weight="bold" text-anchor="end" textLength="35.24" lengthAdjust="spacingAndGlyphs">$154,877</text>
<text x="21.80" y="618.33" font-size="8.2" fill="#D4AF50" textLength="68.80" lengthAdjust="spacing">Total Loan Amount</text>
<text x="370.40" y="619.35" font-size="9.0" fill="#FFFFFF" font-weight="bold" text-anchor="end" textLength="30.54" lengthAdjust="spacingAndGlyphs">$92,926</text>
<text x="21.80" y="632.51" font-size="8.2" fill="#D4AF50" textLength="66.00" lengthAdjust="spacing">Total Interest Paid</text>
<text x="370.40" y="633.40" font-size="9.0" fill="#FFFFFF" font-weight="bold" text-anchor="end" textLength="30.54" lengthAdjust="spacingAndGlyphs">$28,093</text>
<text x="21.80" y="646.69" font-size="8.2" fill="#D4AF50" textLength="60.90" lengthAdjust="spacing">Opportunity Cost</text>
<text x="370.40" y="647.80" font-size="9.0" fill="#FFFFFF" font-weight="bold" text-anchor="end" textLength="35.24" lengthAdjust="spacingAndGlyphs">$378,888</text>
<text x="21.80" y="660.87" font-size="8.2" fill="#D4AF50" textLength="76.70" lengthAdjust="spacing">Full Investment Basis</text>
<text x="370.40" y="661.45" font-size="9.0" fill="#FFFFFF" font-weight="bold" text-anchor="end" textLength="35.24" lengthAdjust="spacingAndGlyphs">$533,765</text>
<rect x="301.00" y="594.15" width="71.70" height="1.30" fill="#C8C8C8"/>
<rect x="301.00" y="664.15" width="71.70" height="1.50" fill="#C8C8C8"/>
<rect x="301.00" y="607.80" width="71.70" height="2.10" fill="#C8C8C8"/>
<rect x="301.00" y="621.75" width="71.70" height="2.10" fill="#C8C8C8"/>
<rect x="301.00" y="635.80" width="71.70" height="2.10" fill="#C8C8C8"/>
<rect x="301.00" y="650.20" width="71.70" height="2.10" fill="#C8C8C8"/>
<rect x="301.00" y="594.15" width="1.40" height="71.50" fill="#C8C8C8"/>
<rect x="370.90" y="594.15" width="1.80" height="71.50" fill="#C8C8C8"/>
<text x="444.60" y="604.15" font-size="8.2" fill="#D4AF50" textLength="82.30" lengthAdjust="spacing">Degree Starting Salary</text>
<text x="793.90" y="605.40" font-size="9.0" fill="#FFFFFF" font-weight="bold" text-anchor="end" textLength="30.54" lengthAdjust="spacingAndGlyphs">$72,000</text>
<text x="444.60" y="618.33" font-size="8.2" fill="#D4AF50" textLength="67.10" lengthAdjust="spacing">Alt. Starting Salary</text>
<text x="793.90" y="619.35" font-size="9.0" fill="#FFFFFF" font-weight="bold" text-anchor="end" textLength="30.54" lengthAdjust="spacingAndGlyphs">$32,000</text>
<text x="444.60" y="632.51" font-size="8.2" fill="#D4AF50" textLength="92.70" lengthAdjust="spacing">Lifetime College Earnings</text>
<text x="793.90" y="633.40" font-size="9.0" fill="#FFFFFF" font-weight="bold" text-anchor="end" textLength="42.29" lengthAdjust="spacingAndGlyphs">$5,768,156</text>
<text x="444.60" y="646.69" font-size="8.2" fill="#D4AF50" textLength="76.80" lengthAdjust="spacing">Lifetime Alt. Earnings</text>
<text x="793.90" y="647.80" font-size="9.0" fill="#FFFFFF" font-weight="bold" text-anchor="end" textLength="42.29" lengthAdjust="spacingAndGlyphs">$2,261,498</text>
<text x="444.60" y="660.87" font-size="8.2" fill="#D4AF50" textLength="70.40" lengthAdjust="spacing">Lifetime Advantage</text>
<text x="793.90" y="661.45" font-size="9.0" fill="#FFFFFF" font-weight="bold" text-anchor="end" textLength="42.29" lengthAdjust="spacingAndGlyphs">$3,506,659</text>
<rect x="724.50" y="594.15" width="71.70" height="1.30" fill="#C8C8C8"/>
<rect x="724.50" y="664.15" width="71.70" height="1.50" fill="#C8C8C8"/>
<rect x="724.50" y="607.80" width="71.70" height="2.10" fill="#C8C8C8"/>
<rect x="724.50" y="621.75" width="71.70" height="2.10" fill="#C8C8C8"/>
<rect x="724.50" y="635.80" width="71.70" height="2.10" fill="#C8C8C8"/>
<rect x="724.50" y="650.20" width="71.70" height="2.10" fill="#C8C8C8"/>
<rect x="724.50" y="594.15" width="1.40" height="71.50" fill="#C8C8C8"/>
<rect x="794.40" y="594.15" width="1.80" height="71.50" fill="#C8C8C8"/>
</svg>
</body>
</html>
